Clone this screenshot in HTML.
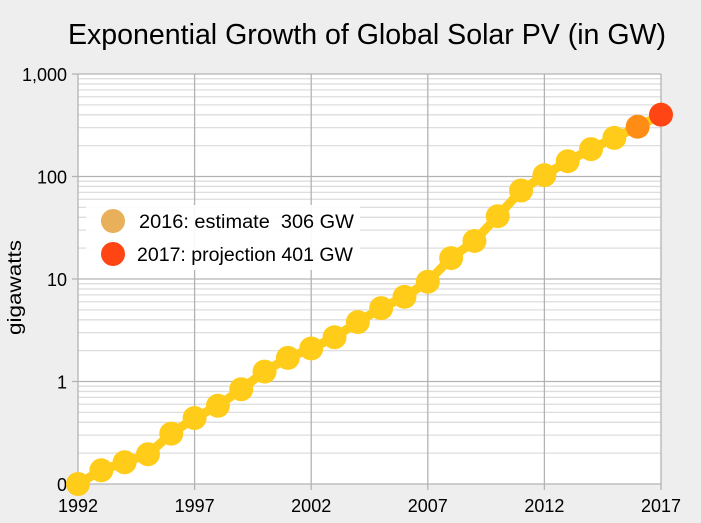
<!DOCTYPE html>
<html><head><meta charset="utf-8"><style>
body{margin:0;background:#eeeeee;}
svg{display:block;font-family:"Liberation Sans",sans-serif;}
</style></head><body>
<svg id="chart" width="701" height="523">
<rect width="701" height="523" fill="#eeeeee"/>
<text x="68" y="44" font-size="29" textLength="598" lengthAdjust="spacingAndGlyphs" fill="#000">Exponential Growth of Global Solar PV (in GW)</text>
<rect x="78" y="74" width="583" height="410" fill="#fff"/>
<g id="grid"></g>
<g id="axes"></g>
<g id="series"></g>
<text transform="translate(21,335) rotate(-90)" font-size="19" textLength="95" lengthAdjust="spacingAndGlyphs">gigawatts</text>
<g>
<rect x="86" y="205" width="274" height="65" fill="#fff" opacity="0.9"/>
<g><circle cx="113" cy="221" r="12" fill="#E8B05A"/><text x="139" y="228" font-size="19" textLength="215" lengthAdjust="spacingAndGlyphs" xml:space="preserve">2016: estimate  306 GW</text></g>
<g><circle cx="113" cy="254" r="12" fill="#FF4513"/><text x="137" y="261" font-size="19" textLength="216" lengthAdjust="spacingAndGlyphs">2017: projection 401 GW</text></g>
</g>
</svg>
<script>
const years=[1992,1993,1994,1995,1996,1997,1998,1999,2000,2001,2002,2003,2004,2005,2006,2007,2008,2009,2010,2011,2012,2013,2014,2015,2016,2017];
const capacityGW=[0.1,0.136,0.163,0.195,0.31,0.44,0.58,0.84,1.25,1.7,2.1,2.7,3.8,5.2,6.7,9.4,16,23.5,41,73,103,141,185,238,306,401];
const xTicks=[1992,1997,2002,2007,2012,2017];
const yTicks=[0.1,1,10,100,1000];
const yTickLabels=["0","1","10","100","1,000"];
const NS="http://www.w3.org/2000/svg";
const X0=78,X1=661,Y0=484,Y1=74;
function xs(y){return X0+(y-1992)/(2017-1992)*(X1-X0);}
function ys(v){return Y0-(Math.log10(v)+1)/4*(Y0-Y1);}
function mk(t,a,p){const e=document.createElementNS(NS,t);for(const k in a)e.setAttribute(k,a[k]);p.appendChild(e);return e;}
const grid=document.getElementById('grid'),axes=document.getElementById('axes'),series=document.getElementById('series');
for(let d=-1;d<3;d++){for(let m=2;m<10;m++){const y=ys(m*Math.pow(10,d));const l=mk('line',{x1:X0,x2:X1,y1:y,y2:y,stroke:'#dddddd','stroke-width':1.3},grid);

}}
yTicks.forEach((v,i)=>{const y=ys(v);const l=mk('line',{x1:X0-6,x2:X1,y1:y,y2:y,stroke:'#b3b3b3','stroke-width':1.3},grid);


const t=mk('text',{x:X0-11,y:y+7,'font-size':18,'text-anchor':'end'},axes);t.textContent=yTickLabels[i];

});
xTicks.forEach(yr=>{const x=xs(yr);const l=mk('line',{x1:x,x2:x,y1:Y1,y2:Y0+6,stroke:'#b3b3b3','stroke-width':1.3},grid);


const t=mk('text',{x:x,y:512,'font-size':18,'text-anchor':'middle'},axes);t.textContent=yr;

});
let pts=years.map((y,i)=>xs(y)+','+ys(capacityGW[i])).join(' ');
const line=mk('polyline',{points:pts,fill:'none',stroke:'#FFCC1A','stroke-width':9,'stroke-linejoin':'round'},series);


years.forEach((y,i)=>{let c='#FFCC1A';if(y===2016)c='#FF8C14';if(y===2017)c='#FF4513';
const r=12;
const p=mk('circle',{cx:xs(y),cy:ys(capacityGW[i]),r:r,fill:c},series);

});
</script>
</body></html>
